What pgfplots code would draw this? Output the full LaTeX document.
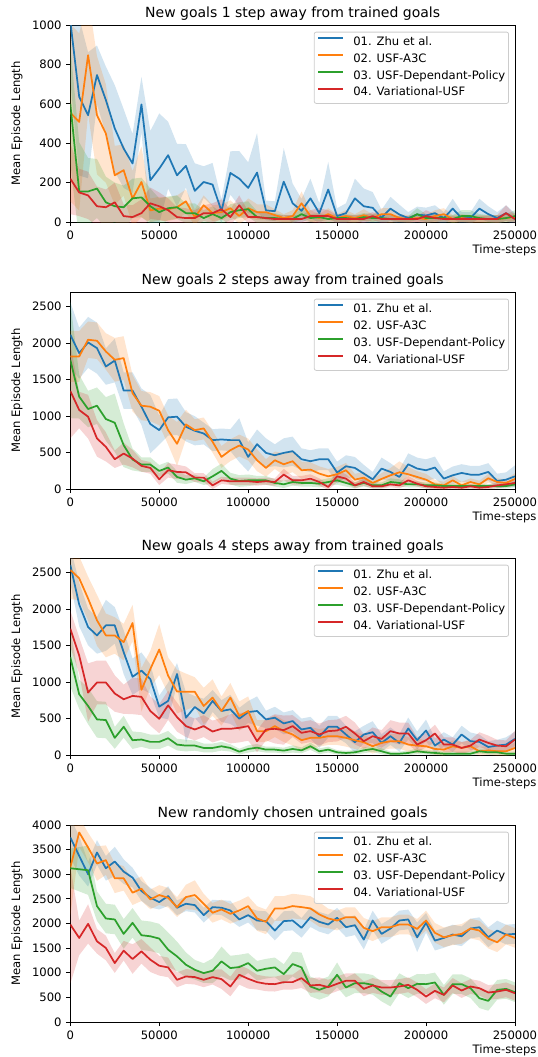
\documentclass[border=0pt]{standalone}
\usepackage{fontspec}
\setmainfont{DejaVu Sans}
\usepackage{pgfplots}
\usepackage{pgfplotstable}
\pgfplotsset{compat=1.18}
\usepgfplotslibrary{fillbetween}

\definecolor{c0}{HTML}{1F77B4}
\definecolor{c1}{HTML}{FF7F0E}
\definecolor{c2}{HTML}{2CA02C}
\definecolor{c3}{HTML}{D62728}

% x, then mean and spread of each method
\pgfplotstableread{
x b bs o os g gs r rs
0 1020 300 555 450 600 300 220 180
5000 636 400 508 450 155 250 150 120
10000 542 320 847 300 155 170 135 120
15000 746 150 542 300 170 150 80 100
20000 619 170 449 250 100 130 75 90
25000 475 220 237 150 80 120 100 100
30000 373 200 263 130 75 110 30 60
35000 297 150 119 140 120 100 25 60
40000 597 140 203 180 125 100 45 70
45000 212 250 59 60 80 90 95 80
50000 271 280 68 60 50 70 80 70
55000 339 170 65 60 70 60 60 60
60000 237 160 75 60 75 60 25 50
65000 285 110 105 60 45 50 20 50
70000 158 140 25 40 45 50 20 40
75000 203 80 85 50 20 40 45 40
80000 190 110 45 40 40 40 45 50
85000 55 60 50 40 20 30 65 50
90000 249 110 70 40 50 40 25 40
95000 220 140 30 40 60 40 85 50
100000 173 130 70 50 65 40 25 30
105000 251 200 50 40 25 30 25 30
110000 59 50 50 40 20 30 20 30
115000 55 50 35 30 20 25 15 20
120000 205 170 20 20 15 20 15 20
125000 95 100 30 30 15 20 15 20
130000 57 60 95 60 40 30 15 20
135000 120 100 30 30 20 20 30 30
140000 45 50 20 20 25 20 30 40
145000 165 140 40 30 15 20 30 30
150000 30 40 20 20 20 20 15 20
155000 45 50 30 30 20 20 15 20
160000 120 100 20 20 15 20 15 20
165000 80 90 35 30 25 20 15 20
170000 72 80 20 20 20 20 30 20
175000 22 40 40 30 20 20 15 20
180000 68 60 40 30 15 20 15 20
185000 38 50 20 20 15 15 15 15
190000 20 30 15 20 15 15 15 15
195000 38 40 20 20 40 30 15 15
200000 33 40 15 20 20 20 30 30
205000 45 40 30 30 20 20 20 20
210000 20 30 40 30 20 20 15 15
215000 68 50 15 20 15 20 15 15
220000 20 30 20 20 30 30 15 15
225000 20 30 15 20 30 30 15 15
230000 68 50 15 20 20 20 15 15
235000 40 40 15 20 15 20 15 15
240000 20 30 15 20 15 20 15 20
245000 45 40 20 20 20 20 45 40
250000 15 30 25 20 30 30 15 20
}\tA

\pgfplotstableread{
x b bs o os g gs r rs
0 2115 450 1817 350 1771 800 1344 650
5000 1862 350 1817 350 1266 300 1083 250
10000 2009 350 2046 250 1096 250 991 300
15000 1931 350 2032 250 1142 250 693 250
20000 1679 250 1885 250 959 300 578 200
25000 1761 300 1771 300 908 400 408 120
30000 1349 250 1794 300 601 300 486 150
35000 1349 250 1312 250 404 150 417 120
40000 1128 250 1142 200 335 100 317 80
45000 890 400 1128 200 335 100 289 80
50000 807 200 1073 200 248 80 133 80
55000 982 250 807 200 294 80 257 100
60000 991 250 619 300 165 80 234 100
65000 853 200 885 200 128 60 229 80
70000 798 200 807 150 147 50 156 60
75000 761 150 830 150 106 50 156 60
80000 670 150 647 150 174 100 50 50
85000 679 150 440 150 248 100 119 50
90000 670 150 532 150 142 80 106 50
95000 670 300 596 150 110 80 106 50
100000 440 200 541 150 119 80 106 50
105000 615 200 394 150 119 60 96 50
110000 495 200 289 120 119 60 106 50
115000 463 150 394 120 83 50 96 50
120000 495 200 339 150 64 50 197 80
125000 518 200 381 150 96 50 119 60
130000 408 150 257 120 83 50 119 60
135000 381 150 266 100 83 50 142 60
140000 408 150 211 100 73 50 96 50
145000 408 150 174 100 96 50 28 40
150000 225 150 202 100 119 60 174 80
155000 312 150 257 100 83 50 142 60
160000 289 150 128 80 50 40 50 40
165000 211 120 156 80 83 50 96 50
170000 133 100 83 60 50 40 37 30
175000 280 150 138 80 50 40 37 30
180000 234 120 188 100 96 50 64 40
185000 165 100 229 150 83 50 50 40
190000 339 150 202 100 64 40 119 60
195000 280 150 165 80 64 40 73 40
200000 257 150 128 80 50 40 37 30
205000 294 150 64 60 50 40 28 30
210000 142 100 50 50 40 30 18 30
215000 188 120 119 60 40 30 28 30
220000 220 120 50 50 40 30 18 30
225000 197 120 96 50 40 30 37 30
230000 197 120 64 50 40 30 18 30
235000 234 120 147 60 40 30 28 30
240000 110 100 96 50 40 30 50 40
245000 128 100 83 50 40 30 64 40
250000 174 150 138 80 64 40 83 40
}\tB

\pgfplotstableread{
x b bs o os g gs r rs
0 2606 250 2537 400 1340 400 1731 250
5000 2063 300 2422 300 833 200 1363 250
10000 1754 250 2145 300 672 250 856 400
15000 1639 250 1846 350 488 250 994 300
20000 1777 350 1639 300 479 250 994 300
25000 1777 250 1639 250 235 150 843 250
30000 1409 300 1547 250 387 150 764 200
35000 1073 250 1809 250 203 120 810 250
40000 1156 250 893 300 212 100 797 250
45000 1041 200 1179 250 180 100 603 200
50000 663 150 1446 350 180 100 497 200
55000 741 250 1087 250 230 100 681 200
60000 1110 150 870 300 143 80 520 200
65000 511 350 866 250 129 80 396 150
70000 658 150 866 200 129 70 350 150
75000 571 200 672 250 97 60 396 150
80000 741 150 787 250 97 60 322 150
85000 603 150 603 200 120 60 359 150
90000 626 200 787 200 97 50 359 200
95000 497 150 534 200 46 40 373 200
100000 589 150 603 200 83 50 396 200
105000 603 200 327 150 101 50 189 150
110000 488 120 327 150 74 40 350 150
115000 511 150 396 150 74 40 359 200
120000 433 150 327 150 60 40 341 200
125000 465 150 281 150 83 50 396 150
130000 350 150 203 150 64 40 304 150
135000 373 150 235 150 120 50 327 150
140000 249 150 235 120 51 40 281 150
145000 387 150 258 120 74 40 327 150
150000 387 150 258 120 37 30 336 150
155000 281 120 235 120 28 30 387 150
160000 175 150 203 120 37 30 295 150
165000 281 120 175 100 64 40 189 100
170000 313 150 120 100 83 40 258 120
175000 166 120 166 100 51 40 221 120
180000 258 120 189 100 18 30 327 150
185000 166 120 189 100 18 30 295 150
190000 364 150 143 100 28 30 295 150
195000 203 120 129 100 51 40 143 100
200000 336 150 120 80 37 30 203 100
205000 129 100 83 80 28 30 295 120
210000 212 100 74 80 18 30 143 100
215000 143 100 120 80 18 30 143 100
220000 281 120 97 80 18 30 97 80
225000 189 120 120 80 18 30 129 80
230000 180 100 51 60 51 30 212 100
235000 110 80 64 60 37 30 166 100
240000 129 80 51 60 37 30 129 80
245000 143 100 51 60 18 30 120 80
250000 221 100 97 80 18 30 212 120
}\tC

\pgfplotstableread{
x b bs o os g gs r rs
0 3748 400 3136 1000 3122 400 1980 1200
5000 3374 400 3850 300 3102 450 1707 350
10000 3000 250 3544 300 3082 500 1993 400
15000 3442 250 3218 350 2354 300 1639 250
20000 3122 250 3286 300 2102 300 1503 250
25000 3259 300 2918 300 2082 300 1197 200
30000 3054 250 2918 250 1789 300 1449 200
35000 2932 200 2626 250 2014 300 1279 300
40000 2660 200 2707 250 1762 300 1435 250
45000 2524 200 2490 200 1741 300 1265 250
50000 2435 150 2578 200 1694 300 1143 200
55000 2558 200 2524 200 1469 350 1109 200
60000 2320 150 2333 200 1333 300 857 150
65000 2401 150 2537 250 1163 250 925 150
70000 2374 150 2578 300 1061 200 912 150
75000 2170 150 2401 200 993 200 857 150
80000 2333 150 2218 200 1041 250 912 150
85000 2320 150 2286 200 1231 300 871 200
90000 2265 200 2197 200 1095 250 721 200
95000 2082 150 2265 200 1116 250 959 200
100000 2170 150 2354 200 1197 200 878 200
105000 2061 200 2102 250 1041 200 810 150
110000 2048 200 2034 250 1082 200 776 150
115000 1857 200 2306 250 1109 200 769 150
120000 2048 200 2306 250 973 200 810 150
125000 2061 200 2354 250 1177 250 810 150
130000 1912 200 2333 250 1109 300 891 200
135000 2129 200 2306 250 721 200 742 150
140000 2034 200 2184 250 653 200 755 150
145000 1980 200 2102 200 721 200 708 150
150000 2116 200 2061 200 959 250 776 150
155000 1925 200 2129 200 701 200 837 150
160000 1966 200 2129 200 789 200 837 150
165000 1673 200 1912 200 789 200 673 150
170000 2061 200 1844 200 755 200 742 150
175000 1789 200 1925 200 619 200 701 150
180000 1898 200 1925 200 517 200 701 150
185000 2061 200 1980 200 789 200 721 150
190000 2082 200 1980 200 687 200 755 150
195000 1721 300 1891 200 775 200 653 150
200000 2014 200 2061 200 769 200 517 150
205000 1653 200 1810 200 803 200 633 150
210000 1707 200 1721 200 551 200 551 150
215000 1776 200 1762 200 769 200 742 150
220000 1741 200 1789 200 769 200 639 150
225000 1898 200 1898 200 687 200 721 150
230000 1925 200 1857 200 483 200 687 150
235000 1721 200 1694 200 429 200 599 150
240000 1857 200 1619 200 653 200 619 150
245000 1776 200 1776 200 673 200 653 150
250000 1789 200 1707 200 605 200 585 150
}\tD

% shaded spread of one series: table, column, colour, path prefix
\newcommand\band[4]{%
  \addplot[draw=none, forget plot, name path=#4U] table[x=x, y expr=\thisrow{#2}+\thisrow{#2s}] {#1};
  \addplot[draw=none, forget plot, name path=#4L] table[x=x, y expr=\thisrow{#2}-\thisrow{#2s}] {#1};
  \addplot[fill=#3, fill opacity=0.2, draw=none, forget plot] fill between[of=#4U and #4L];
}
\newcommand\runs[2]{%
  \band{#1}{b}{c0}{#2b}
  \band{#1}{o}{c1}{#2o}
  \band{#1}{g}{c2}{#2g}
  \band{#1}{r}{c3}{#2r}
  \addplot[c0, line width=1.3pt, line join=round] table[x=x, y=b] {#1};
  \addlegendentry{01. Zhu et al.}
  \addplot[c1, line width=1.3pt, line join=round] table[x=x, y=o] {#1};
  \addlegendentry{02. USF-A3C}
  \addplot[c2, line width=1.3pt, line join=round] table[x=x, y=g] {#1};
  \addlegendentry{03. USF-Dependant-Policy}
  \addplot[c3, line width=1.3pt, line join=round] table[x=x, y=r] {#1};
  \addlegendentry{04. Variational-USF}
}

\pgfplotsset{
  panel/.style={
    width=333.5pt, height=147.75pt, scale only axis,
    xmin=0, xmax=250000, ymin=0, enlargelimits=false,
    xtick={0,50000,100000,150000,200000,250000},
    scaled x ticks=false, scaled y ticks=false,
    /pgf/number format/fixed,
    /pgf/number format/1000 sep={},
    /pgf/number format/assume math mode=true,
    tick align=outside, tick pos=left,
    major tick length=3.05pt,
    tick style={black, line width=0.7pt},
    axis line style={line width=0.7pt},
    tick label style={font=\fontsize{8.7}{10}\selectfont},
    every axis title/.style={at={(0.5,1)}, anchor=base, yshift=6pt,
      font=\fontsize{10.5}{12}\selectfont},
    xlabel={Time-steps},
    every axis x label/.style={at={(rel axis cs:1,0)}, anchor=base east, inner sep=0pt,
      xshift=16.3pt, yshift=-23.3pt, font=\fontsize{8.7}{10}\selectfont},
    ylabel={Mean Episode Length},
    every axis y label/.style={at={(axis description cs:-0.1199,0.5)}, rotate=90,
      anchor=center, font=\fontsize{8.7}{10}\selectfont},
    legend cell align=left,
    legend style={at={(axis description cs:0.9865,0.966)}, anchor=north east,
      draw=black!20, line width=0.6pt, rounded corners=1.5pt,
      fill=white, fill opacity=0.8, text opacity=1,
      font=\fontsize{8.7}{10}\selectfont,
      inner xsep=2.5pt, inner ysep=1.5pt,
      nodes={inner xsep=0pt, inner ysep=2.06pt, text height=6.5pt, text depth=2pt},
      /tikz/every odd column/.append style={column sep=6.75pt}},
    legend image code/.code={\draw[#1, line width=1.3pt] (0pt,3.2pt) -- (18.75pt,3.2pt);},
  }
}

\begin{document}
\begin{tikzpicture}
\begin{axis}[panel, at={(0pt,-166.5pt)}, ymax=1000,
    ytick={0,200,400,600,800,1000},
    title={New goals 1 step away from trained goals}]
  \runs{\tA}{p1}
\end{axis}
\begin{axis}[panel, at={(0pt,-366.75pt)}, ymax=2700,
    ytick={0,500,1000,1500,2000,2500},
    title={New goals 2 steps away from trained goals}]
  \runs{\tB}{p2}
\end{axis}
\begin{axis}[panel, at={(0pt,-566.25pt)}, ymax=2700,
    ytick={0,500,1000,1500,2000,2500},
    title={New goals 4 steps away from trained goals}]
  \runs{\tC}{p3}
\end{axis}
\begin{axis}[panel, at={(0pt,-766.5pt)}, ymax=4000,
    ytick={0,500,1000,1500,2000,2500,3000,3500,4000},
    title={New randomly chosen untrained goals}]
  \runs{\tD}{p4}
\end{axis}
\pgfresetboundingbox
\path[use as bounding box] (-52.725pt,0pt) rectangle (350.025pt,-792.75pt);
\end{tikzpicture}
\end{document}
